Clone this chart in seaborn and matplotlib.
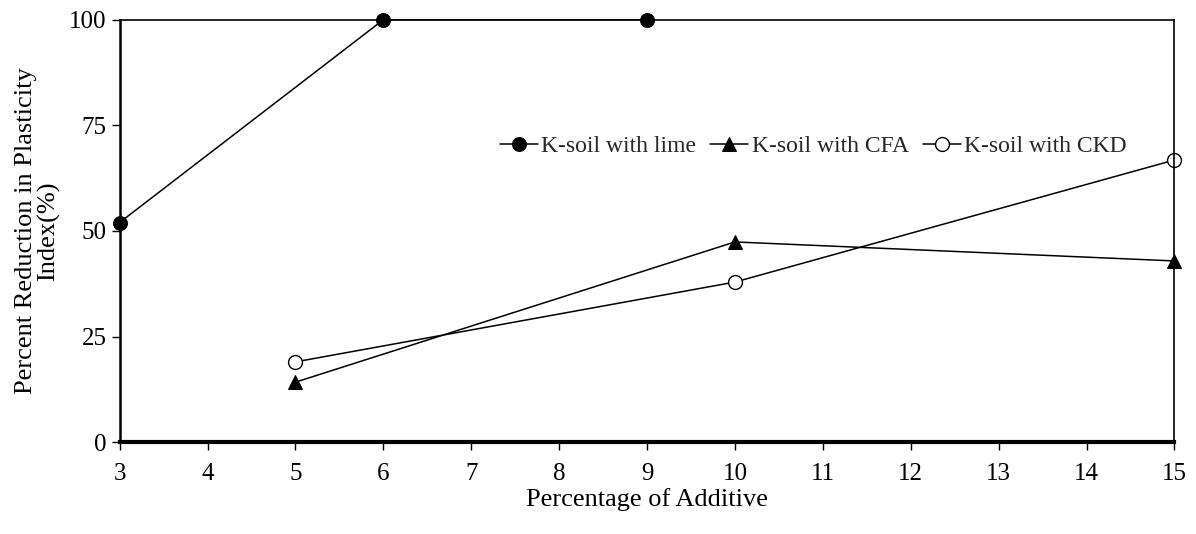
import matplotlib
matplotlib.use("Agg")
import matplotlib.pyplot as plt
import seaborn as sns

# values
lime_x = [3, 6, 9]
lime_y = [52, 100, 100]
cfa_x = [5, 10, 15]
cfa_y = [14.2, 47.4, 42.9]
ckd_x = [5, 10, 15]
ckd_y = [19, 37.9, 66.8]

x_ticks = list(range(3, 16))
y_ticks = [0, 25, 50, 75, 100]

sns.set_theme(style="white")
plt.rcParams['font.family'] = ['Liberation Serif', 'DejaVu Serif']

fig = plt.figure(figsize=(11.96, 5.34), dpi=100)
ax = fig.add_axes([0.100, 0.172, 0.882, 0.791])

common = dict(ax=ax, color='black', lw=1.1, markersize=10,
              markeredgecolor='black', clip_on=False)
sns.lineplot(x=lime_x, y=lime_y, marker='o', markerfacecolor='black',
             label='K-soil with lime', **common)
sns.lineplot(x=cfa_x, y=cfa_y, marker='^', markerfacecolor='black',
             label='K-soil with CFA', **common)
sns.lineplot(x=ckd_x, y=ckd_y, marker='o', markerfacecolor='white',
             markeredgewidth=1, label='K-soil with CKD', **common)

ax.set_xlim(3, 15)
ax.set_ylim(0, 100)
ax.set_xticks(x_ticks)
ax.set_yticks(y_ticks)
ax.tick_params(axis='both', direction='out', length=6, width=1, colors='black',
               labelsize=18, left=True, bottom=True)
ax.tick_params(axis='x', pad=9)

for side, w in [('left', 1.8), ('bottom', 3), ('top', 1.2), ('right', 1.2)]:
    ax.spines[side].set_visible(True)
    ax.spines[side].set_color('black')
    ax.spines[side].set_linewidth(w)

ax.set_xlabel('Percentage of Additive', fontsize=19, color='black', labelpad=2)
ax.set_ylabel('Percent Reduction in Plasticity\nIndex(%)', fontsize=19,
              color='black', linespacing=1.0, labelpad=6)

ax.legend(loc='center right', bbox_to_anchor=(0.975, 0.70), ncol=3,
          frameon=False, fontsize=17, handlelength=1.6, handletextpad=0.15,
          columnspacing=0.6)

fig.savefig('out.png', dpi=100)
